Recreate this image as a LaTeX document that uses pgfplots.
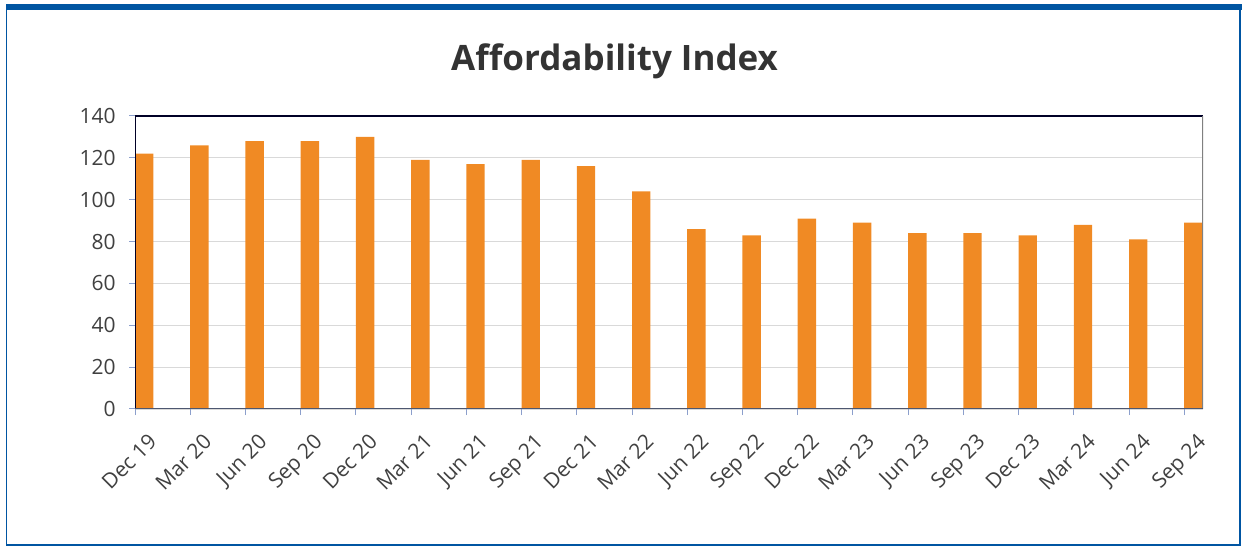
\documentclass[border=0pt]{standalone}
\usepackage{fontspec}
\setmainfont{Open Sans}
\usepackage{pgfplots}
\usepackage{pgfplotstable}
\pgfplotsset{compat=1.18}
\definecolor{barorange}{HTML}{F08A24}
\definecolor{frameblue}{HTML}{0055A2}
\definecolor{gridgray}{HTML}{D9D9D9}
\definecolor{tickblue}{HTML}{8C9FCC}
\definecolor{labelgray}{HTML}{404040}
\definecolor{titlegray}{HTML}{333333}
\pgfplotstableread{
x val
0 122
1 126
2 128
3 128
4 130
5 119
6 117
7 119
8 116
9 104
10 86
11 83
12 91
13 89
14 84
15 84
16 83
17 88
18 81
19 89
}\datatable
\begin{document}
\begin{tikzpicture}
\useasboundingbox (-67.5pt,-68.5pt) rectangle (553.5pt,204.5pt);
\fill[frameblue] (-64.5pt,199.5pt) rectangle (553.5pt,202.5pt);
\draw[frameblue, line width=0.7pt] (-64.25pt,199.5pt) -- (-64.25pt,-68pt) -- (552.5pt,-68pt) -- (552.5pt,199.5pt);
\node[anchor=base, font=\fontsize{17.5}{21}\selectfont\bfseries, text=titlegray, inner sep=0] at (239.8pt,169pt) {Affordability Index};
\begin{axis}[anchor=south west, at={(0pt,0pt)}, scale only axis,
  width=534pt, height=146.5pt,
  xmin=0, xmax=19.34, ymin=0, ymax=140,
  ytick={0,20,...,140}, xtick={0,...,19},
  xticklabels={Dec 19, Mar 20, Jun 20, Sep 20, Dec 20, Mar 21, Jun 21, Sep 21, Dec 21, Mar 22, Jun 22, Sep 22, Dec 22, Mar 23, Jun 23, Sep 23, Dec 23, Mar 24, Jun 24, Sep 24},
  axis line style={draw=none},
  ymajorgrids, grid style={gridgray, line width=0.6pt},
  tick align=outside, tick pos=left, major tick length=3pt,
  tick style={tickblue, line width=0.5pt},
  ticklabel style={font=\fontsize{10.5}{12}\selectfont, text=labelgray},
  /pgf/number format/assume math mode=true,
  xticklabel style={xshift=6pt, yshift=-7pt, rotate=45, anchor=north east, inner sep=1pt},
  yticklabel style={inner sep=1pt, xshift=-5.5pt},
]
\addplot[ybar, fill=barorange, draw=none, bar width=9.2pt, bar shift=4.6pt] table[x=x,y=val]{\datatable};
\draw[black!85!blue, line width=0.7pt] (rel axis cs:0,0) -- (rel axis cs:0,1) -- (rel axis cs:1,1);
\draw[gray, line width=0.8pt] (rel axis cs:1,1) -- (rel axis cs:1,0);
\draw[black!45!tickblue, line width=0.8pt] (rel axis cs:0,0) -- (rel axis cs:1,0);
\end{axis}
\end{tikzpicture}
\end{document}
